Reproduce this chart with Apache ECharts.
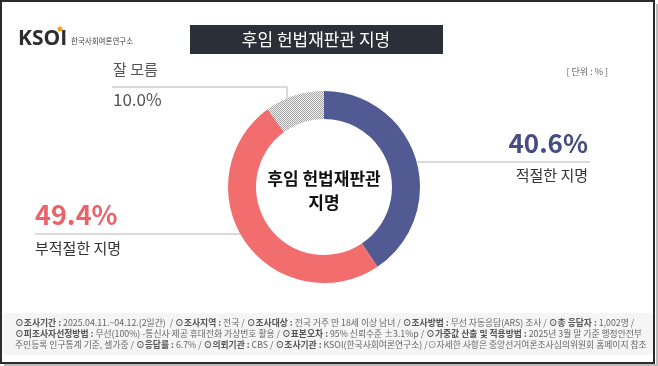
<!DOCTYPE html>
<html><head><meta charset="utf-8">
<script src="https://cdn.jsdelivr.net/npm/echarts@6/dist/echarts.min.js"></script>
<style>html,body{margin:0;padding:0;background:#fff}#c{width:658px;height:366px}</style>
</head><body><div id="c"></div>
<script>
const categories = ['적절한 지명', '부적절한 지명', '잘 모름'];
const values = [40.6, 49.4, 10.0];
const centerTitle = ['후임 헌법재판관', '지명'];
const chartTitle = '후임 헌법재판관 지명';
const unitText = '[ 단위 : % ]';
const footerLines = [
  [['b','⊙조사기간 : '],['n','2025.04.11.~04.12.(2일간)  / '],['b','⊙조사지역 : '],['n','전국 / '],['b','⊙조사대상 : '],['n','전국 거주 만 18세 이상 남녀 / '],['b','⊙조사방법 : '],['n','무선 자동응답(ARS) 조사 / '],['b','⊙총 응답자 : '],['n','1,002명 /']],
  [['b','⊙피조사자선정방법 : '],['n','무선(100%) -통신사 제공 휴대전화 가상번호 활용 / '],['b','⊙표본오차 : '],['n','95% 신뢰수준 ±3.1%p / '],['b','⊙가중값 산출 및 적용방법 : '],['n','2025년 3월 말 기준 행정안전부']],
  [['n','주민등록 인구통계 기준, 셀가중 / '],['b','⊙응답률 : '],['n','6.7% / '],['b','⊙의뢰기관 : '],['n','CBS / '],['b','⊙조사기관 : '],['n','KSOI(한국사회여론연구소) /⊙자세한 사항은 중앙선거여론조사심의위원회 홈페이지 참조']]
];

const KR = '"Noto Sans CJK KR", "Noto Sans", sans-serif';
const colors = ['#525a94', '#f26d6e', null];
const labelColors = ['#474d80', '#e9646a', '#555555'];

// dotted pattern for "잘 모름"
const pc = document.createElement('canvas');
pc.width = 2; pc.height = 2;
const px = pc.getContext('2d');
px.fillStyle = '#f2f2f2'; px.fillRect(0,0,2,2);
px.fillStyle = '#a4a4a4'; px.fillRect(0,0,1,1); px.fillRect(1,1,1,1);

const chart = echarts.init(document.getElementById('c'), null, {renderer:'canvas'});

const layouts = [
  {x:588, y:125, align:'right', pts:[[417,162],[500,162],[590,162]]},
  {x:35, y:196, align:'left', pts:[[240,234],[140,234],[35,234]]},
  {x:113, y:52, align:'left', pts:[[287,99],[287,87],[112,87]]}
];

const footerGraphics = footerLines.map((line, i) => ({
  type:'text', left:15, top:318 + i*11,
  style:{
    rich:{ b:{fontSize:8.8, fontWeight:'bold', fill:'#555', fontFamily:KR}, n:{fontSize:8.8, fill:'#666', fontFamily:KR} },
    text: line.map(p => '{' + p[0] + '|' + p[1].replace(/[{}|]/g,'') + '}').join('')
  }
}));

chart.setOption({
  animation:false,
  graphic:[
    {type:'rect', shape:{x:1, y:1, width:653, height:362}, style:{fill:'none', stroke:'#2b2b2b', lineWidth:2}, z:10},
    {type:'rect', shape:{x:656, y:4, width:2, height:362}, style:{fill:'#bbb'}},
    {type:'rect', shape:{x:4, y:364, width:654, height:2}, style:{fill:'#bbb'}},
    {type:'rect', shape:{x:3, y:313, width:650, height:42}, style:{fill:'#f5f5f5'}},
    {type:'rect', shape:{x:190, y:25, width:253, height:29}, style:{fill:'#2a2f38'}},
    {type:'text', x:316, y:40, style:{text:chartTitle, fill:'#fff', fontSize:17, fontFamily:KR, align:'center', verticalAlign:'middle'}},
    {type:'text', x:18, y:39, style:{rich:{k:{fontSize:21, fontWeight:'bold', fill:'#2e2e2e', fontFamily:'"Open Sans", sans-serif'}}, text:'{k|KSOI}', verticalAlign:'middle'}},
    {type:'circle', shape:{cx:60, cy:29, r:2.5}, style:{fill:'#f0a020'}},
    {type:'text', x:71, y:41, style:{text:'한국사회여론연구소', fill:'#444', fontSize:7.5, fontFamily:KR, verticalAlign:'middle'}},
    {type:'text', x:608, y:72, style:{text:unitText, fill:'#666', fontSize:9, fontFamily:KR, align:'right', verticalAlign:'middle'}},
    {type:'text', x:324, y:191, z:20, style:{text:centerTitle.join('\n'), fill:'#111', fontSize:17, fontWeight:'bold', fontFamily:KR, align:'center', verticalAlign:'middle', lineHeight:24}}
  ].concat(footerGraphics),
  series:[{
    type:'pie',
    center:[324,187],
    radius:[68,96],
    startAngle:90,
    clockwise:true,
    silent:true,
    data: categories.map((c,i) => ({
      name:c, value:values[i],
      itemStyle:{ color: colors[i] || {image:pc, repeat:'repeat'} }
    })),
    label:{
      show:true,
      formatter: p => {
        const i = p.dataIndex;
        const v = values[i].toFixed(1) + '%';
        return i === 2 ? '{n2|' + p.name + '}\n{v2|' + v + '}' : '{v' + i + '|' + v + '}\n{n|' + p.name + '}';
      },
      rich:{
        v0:{fontSize:26, fontWeight:'bold', color:labelColors[0], lineHeight:36, fontFamily:KR},
        v1:{fontSize:27, fontWeight:'bold', color:labelColors[1], lineHeight:38, fontFamily:KR},
        n:{fontSize:15, color:'#333', lineHeight:29, fontFamily:KR},
        n2:{fontSize:15, color:'#555', lineHeight:34, fontFamily:KR},
        v2:{fontSize:17, color:'#555', lineHeight:28, fontFamily:KR}
      }
    },
    labelLine:{show:true, lineStyle:{color:'#b5b5b5', width:1}},
    labelLayout: p => {
      const L = layouts[p.dataIndex];
      return {x:L.x, y:L.y, align:L.align, verticalAlign:'top', labelLinePoints:L.pts};
    }
  }]
});
</script></body></html>
